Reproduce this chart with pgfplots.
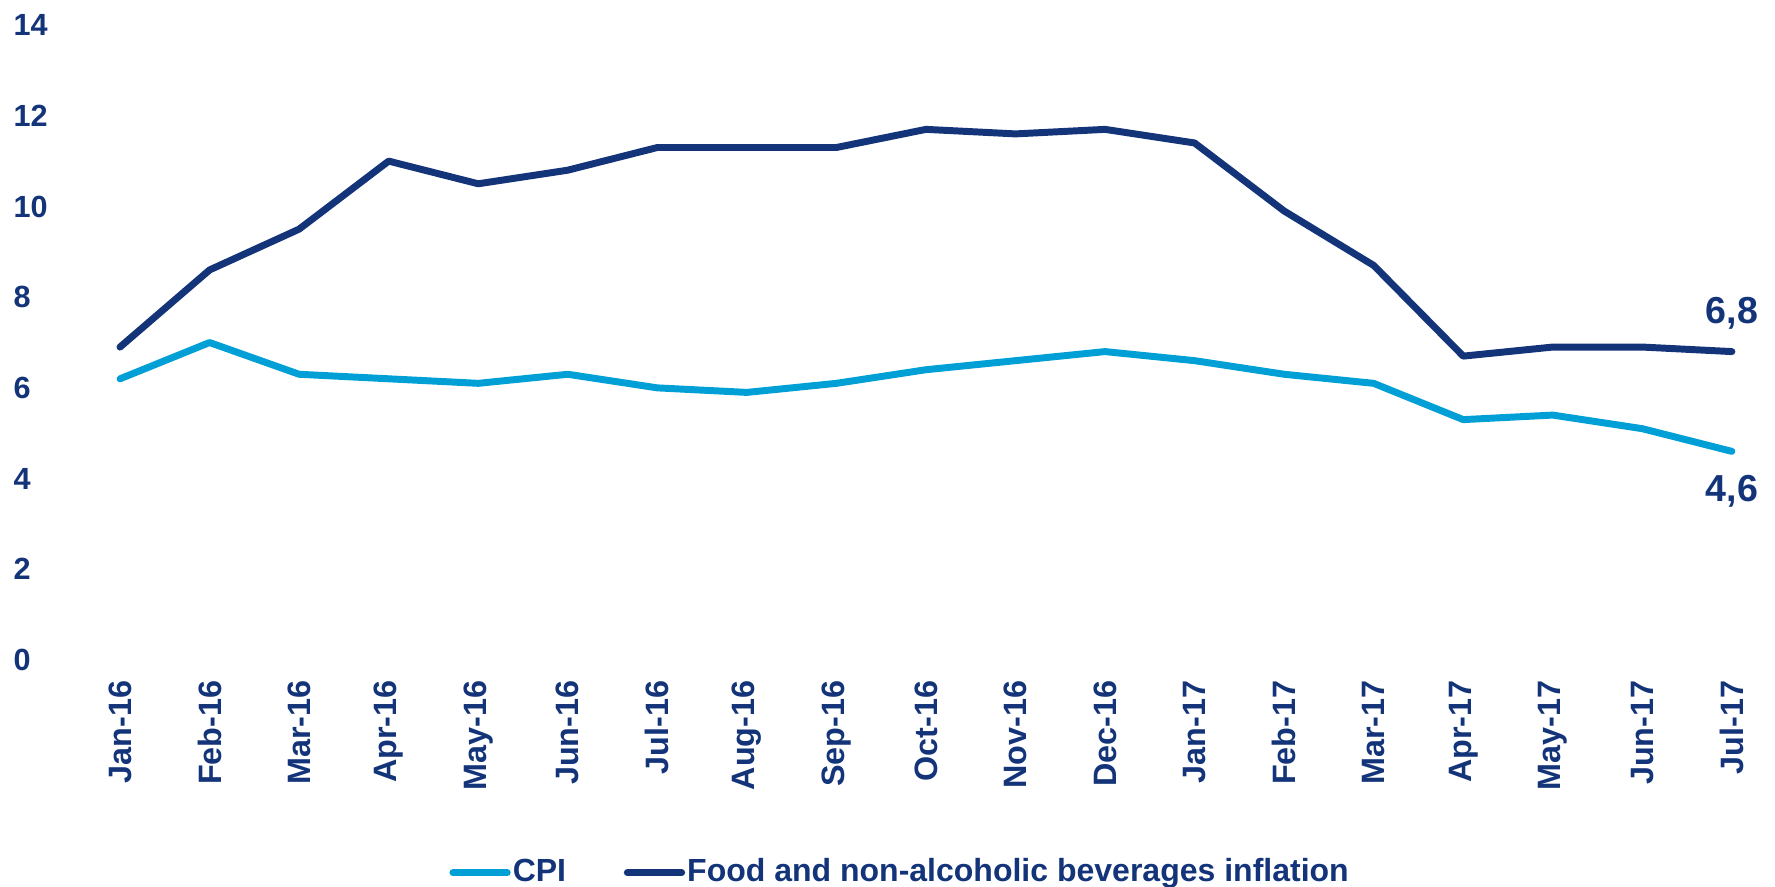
\documentclass[border=0pt]{standalone}
\usepackage{pgfplots}
\pgfplotsset{compat=1.18}
\usepackage{fontspec}
\setmainfont{Liberation Sans}
\definecolor{navy}{HTML}{14347A}
\definecolor{cpiblue}{HTML}{00A0D6}
\begin{document}
\begin{tikzpicture}
\begin{axis}[
  scale only axis,
  width=463.3pt, height=182.5pt,
  at={(0,0)}, anchor=south west,
  xmin=0, xmax=18, ymin=0, ymax=14,
  clip=false,
  axis line style={draw=none},
  tick style={draw=none},
  ytick={0,2,...,14},
  xtick={0,...,18},
  xticklabels={Jan-16,Feb-16,Mar-16,Apr-16,May-16,Jun-16,Jul-16,Aug-16,Sep-16,Oct-16,Nov-16,Dec-16,Jan-17,Feb-17,Mar-17,Apr-17,May-17,Jun-17,Jul-17},
  /pgf/number format/assume math mode=true,
  yticklabel style={font=\fontsize{8.8}{11}\selectfont\bfseries, text=navy, anchor=west, inner sep=0pt, xshift=-30.8pt},
  xticklabel style={font=\fontsize{9.3}{11}\selectfont\bfseries, text=navy, yshift=-5.7pt, rotate=90, anchor=east, inner sep=0pt},
  legend style={at={(0.484,-0.335)}, anchor=center, draw=none, fill=none,
    font=\fontsize{9.2}{11}\selectfont\bfseries, text=navy,
    legend columns=2, inner sep=0pt, nodes={inner sep=0.6pt},
    /tikz/every even column/.append style={column sep=16pt}},
  legend cell align=left,
  legend image code/.code={\draw[#1, line cap=round] (0pt,0pt) -- (15.6pt,0pt);},
]
\addplot[cpiblue, line width=2pt, line join=round, line cap=round] coordinates {
(0,6.2)(1,7.0)(2,6.3)(3,6.2)(4,6.1)(5,6.3)(6,6.0)(7,5.9)(8,6.1)(9,6.4)(10,6.6)(11,6.8)(12,6.6)(13,6.3)(14,6.1)(15,5.3)(16,5.4)(17,5.1)(18,4.6)};
\addlegendentry{CPI}
\addplot[navy, line width=2pt, line join=round, line cap=round] coordinates {
(0,6.9)(1,8.6)(2,9.5)(3,11.0)(4,10.5)(5,10.8)(6,11.3)(7,11.3)(8,11.3)(9,11.7)(10,11.6)(11,11.7)(12,11.4)(13,9.9)(14,8.7)(15,6.7)(16,6.9)(17,6.9)(18,6.8)};
\addlegendentry{Food and non-alcoholic beverages inflation}
\node[font=\fontsize{10.8}{13}\selectfont\bfseries, text=navy, anchor=center, yshift=11pt] at (axis cs:18,6.8) {6,8};
\node[font=\fontsize{10.8}{13}\selectfont\bfseries, text=navy, anchor=center, yshift=-11.5pt] at (axis cs:18,4.6) {4,6};
\end{axis}
\pgfresetboundingbox
\path[use as bounding box] (-34.5pt,-65.2pt) rectangle (475.7pt,189.7pt);
\end{tikzpicture}
\end{document}
